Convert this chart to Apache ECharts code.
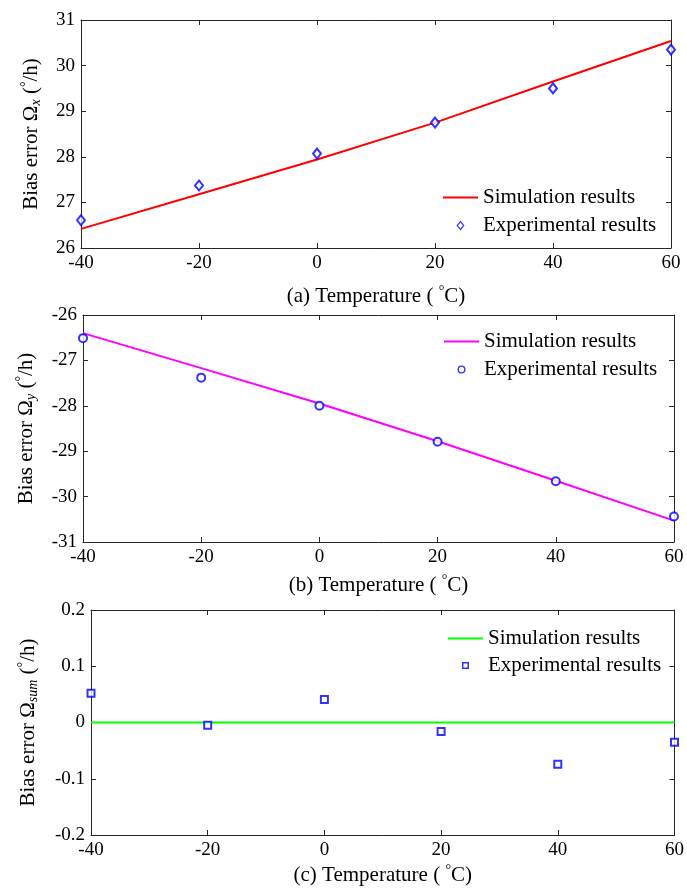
<!DOCTYPE html>
<html>
<head>
<meta charset="utf-8">
<script src="https://cdn.jsdelivr.net/npm/echarts@6/dist/echarts.min.js"></script>
<style>
html,body{margin:0;padding:0;background:#fff;}
#chart{width:687px;height:891px;}
</style>
</head>
<body>
<div id="chart"></div>
<script>
// ---- data ----
var temperatures = [-40, -20, 0, 20, 40, 60];
var simX = [26.42, 27.18, 27.94, 28.75, 29.65, 30.54];
var expX = [26.61, 27.37, 28.07, 28.75, 29.50, 30.35];
var simY = [-26.40, -27.17, -27.95, -28.78, -29.65, -30.53];
var expY = [-26.51, -27.38, -28.00, -28.79, -29.66, -30.44];
var simSum = [0, 0, 0, 0, 0, 0];
var expSum = [0.052, -0.005, 0.041, -0.016, -0.074, -0.035];
var xTitles = ['(a) Temperature (', '(b) Temperature (', '(c) Temperature ('];
var yTitleSubs = ['x', 'y', 'sum'];
var legendSim = 'Simulation results';
var legendExp = 'Experimental results';

function pairs(xs, ys) { return xs.map(function (x, i) { return [x, ys[i]]; }); }

var FONT = "'Liberation Serif', 'Times New Roman', serif";
var AX = '#262626';

var grids = [
  {left: 81, top: 20, width: 590, height: 228},
  {left: 83, top: 315, width: 591, height: 227},
  {left: 91, top: 610, width: 585, height: 225}
];
var yRanges = [[26, 31, 1], [-31, -26, 1], [-0.2, 0.2, 0.1]];
var xNameGaps = [36, 31, 28];
var yNameGaps = [38, 45, 51];
var simColors = ['#ff0000', '#ff00ff', '#00ff00'];
var expSymbols = ['emptyDiamond', 'emptyCircle', 'emptyRect'];
var expSizes = [[8, 10], 8, 7];
var lineIcon = 'path://M0,0H35V2H0Z';
var expIcons = [
  'path://M4,0L8,5L4,10L0,5Z M4,1.9L1.5,5L4,8.1L6.5,5Z',
  'path://M5,0A5,5 0 1,1 5,10A5,5 0 1,1 5,0Z M5,1.7A3.3,3.3 0 1,0 5,8.3A3.3,3.3 0 1,0 5,1.7Z',
  'path://M0,0H8V8H0Z M1.7,1.7V6.3H6.3V1.7Z'
];
var legendIconH = [10, 8, 7];
var legendPos = [[443, 187, 7], [444, 331, 7], [448, 628, 6]];
var simData = [simX, simY, simSum];
var expData = [expX, expY, expSum];
var keys = ['a', 'b', 'c'];

var richT = {
  n: {fontFamily: FONT, fontSize: 21, color: '#000', lineHeight: 24, verticalAlign: 'middle'},
  sup: {fontFamily: FONT, fontSize: 14, color: '#000', lineHeight: 14, verticalAlign: 'top'},
  sub: {fontFamily: FONT, fontSize: 14, fontStyle: 'italic', color: '#000', lineHeight: 14, verticalAlign: 'bottom'}
};

function tick() { return {show: true, inside: true, length: 5, lineStyle: {color: AX}}; }
function line() { return {show: true, onZero: false, lineStyle: {color: AX, width: 1}}; }

var xAxes = [], yAxes = [], series = [], legends = [];
for (var i = 0; i < 3; i++) {
  xAxes.push({
    type: 'value', gridIndex: i, min: -40, max: 60, interval: 20, position: 'bottom',
    splitLine: {show: false}, axisLine: line(), axisTick: tick(),
    axisLabel: {show: true, margin: 6, fontFamily: FONT, fontSize: 19, color: '#000'},
    name: '{n|' + xTitles[i] + ' }{sup|°}{n|C)}',
    nameLocation: 'middle', nameGap: xNameGaps[i],
    nameTextStyle: {rich: richT}
  });
  yAxes.push({
    type: 'value', gridIndex: i, min: yRanges[i][0], max: yRanges[i][1], interval: yRanges[i][2],
    position: 'left',
    splitLine: {show: false}, axisLine: line(), axisTick: tick(),
    axisLabel: {show: true, margin: 6, fontFamily: FONT, fontSize: 19, color: '#000'},
    name: '{n|Bias error Ω}{sub|' + yTitleSubs[i] + '}{n| (}{sup|°}{n|/h)}',
    nameLocation: 'middle', nameGap: yNameGaps[i],
    nameTextStyle: {rich: richT}
  });
  series.push({
    name: 'sim_' + keys[i], type: 'line', xAxisIndex: i, yAxisIndex: i,
    data: pairs(temperatures, simData[i]), symbol: 'none', smooth: false,
    lineStyle: {color: simColors[i], width: 2}, itemStyle: {color: simColors[i]},
    z: 2, silent: true
  });
  series.push({
    name: 'exp_' + keys[i], type: 'scatter', xAxisIndex: i, yAxisIndex: i,
    data: pairs(temperatures, expData[i]), symbol: expSymbols[i], symbolSize: expSizes[i],
    itemStyle: {color: '#0000ff', borderColor: '#0000ff', borderWidth: 1.6},
    z: 3, silent: true
  });
  legends.push({
    orient: 'vertical', left: legendPos[i][0], top: legendPos[i][1], itemGap: legendPos[i][2],
    itemWidth: 35, itemHeight: legendIconH[i], selectedMode: false, padding: 0,
    symbolKeepAspect: true,
    data: [
      {name: 'sim_' + keys[i], icon: lineIcon, itemStyle: {color: simColors[i]}},
      {name: 'exp_' + keys[i], icon: expIcons[i], itemStyle: {color: '#0000ff', borderWidth: 0}}
    ],
    formatter: function (name) { return name.indexOf('sim') === 0 ? legendSim : legendExp; },
    textStyle: {fontFamily: FONT, fontSize: 21, color: '#000', lineHeight: 20}
  });
}
// top / right mirror axes for inward ticks on all sides
for (var j = 0; j < 3; j++) {
  xAxes.push({
    type: 'value', gridIndex: j, position: 'top', min: -40, max: 60, interval: 20,
    splitLine: {show: false}, axisLabel: {show: false}, axisLine: line(), axisTick: tick()
  });
  yAxes.push({
    type: 'value', gridIndex: j, position: 'right', min: yRanges[j][0], max: yRanges[j][1], interval: yRanges[j][2],
    splitLine: {show: false}, axisLabel: {show: false}, axisLine: line(), axisTick: tick()
  });
}

var chart = echarts.init(document.getElementById('chart'), null, {renderer: 'canvas'});
chart.setOption({
  backgroundColor: '#fff',
  animation: false,
  grid: grids,
  xAxis: xAxes,
  yAxis: yAxes,
  legend: legends,
  series: series
});
</script>
</body>
</html>
